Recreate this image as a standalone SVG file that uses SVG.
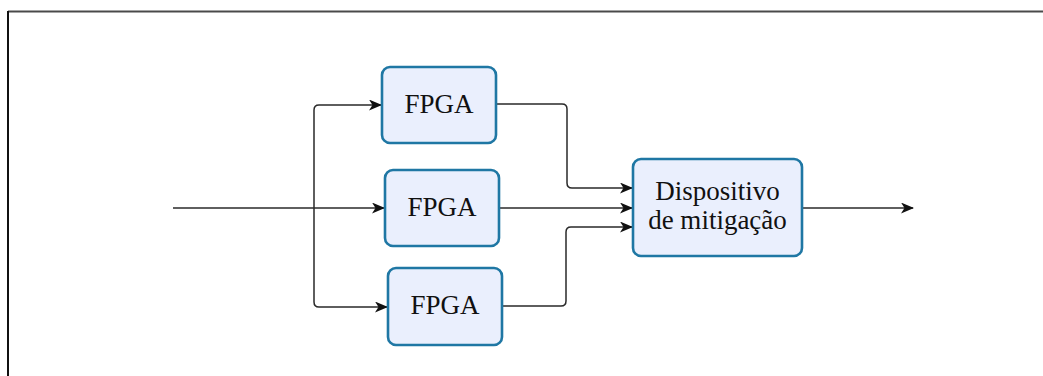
<svg xmlns="http://www.w3.org/2000/svg" width="1043" height="376" viewBox="0 0 1043 376">
  <defs>
    <style>
      .node rect { fill: #eaeffd; stroke: #1f77a4; stroke-width: 2.6; }
      .node text { font-family: "Liberation Serif", "Times New Roman", serif; font-size: 27px; fill: #111; text-anchor: middle; }
      .wire { fill: none; stroke: #2a2a2a; stroke-width: 1.5; }
    </style>
    <marker id="arrow" viewBox="0 0 13 11" refX="12" refY="5.5" markerWidth="13" markerHeight="11" markerUnits="userSpaceOnUse" orient="auto">
      <path d="M0,0 L13,5.5 L0,11 L3.5,5.5 Z" fill="#111"/>
    </marker>
  </defs>

  <rect x="0" y="0" width="1043" height="376" fill="#ffffff"/>

  <!-- frame edges -->
  <line x1="8" y1="11.5" x2="1043" y2="11.5" stroke="#4a4a4a" stroke-width="2"/>
  <line x1="8" y1="11" x2="8" y2="376" stroke="#111" stroke-width="2"/>

  <g id="connectors">
    <!-- input split to the three FPGAs -->
    <path class="wire" d="M173,208 H384" marker-end="url(#arrow)"/>
    <path class="wire" d="M314,208 V110 Q314,105 319,105 H381" marker-end="url(#arrow)"/>
    <path class="wire" d="M314,208 V302 Q314,307 319,307 H387" marker-end="url(#arrow)"/>
    <!-- FPGA outputs to the mitigation device -->
    <path class="wire" d="M496,104 H562 Q567,104 567,109 V183 Q567,188 572,188 H632" marker-end="url(#arrow)"/>
    <path class="wire" d="M499,208 H632" marker-end="url(#arrow)"/>
    <path class="wire" d="M502,306 H561 Q566,306 566,301 V232 Q566,227 571,227 H632" marker-end="url(#arrow)"/>
    <!-- device output -->
    <path class="wire" d="M803,208 H913" marker-end="url(#arrow)"/>
  </g>

  <g id="fpga1" class="node">
    <rect x="382" y="67" width="114" height="76" rx="8"/>
    <text x="439" y="113">FPGA</text>
  </g>
  <g id="fpga2" class="node">
    <rect x="385" y="170" width="114" height="76" rx="8"/>
    <text x="442" y="216">FPGA</text>
  </g>
  <g id="fpga3" class="node">
    <rect x="388" y="268" width="114" height="77" rx="8"/>
    <text x="445" y="314">FPGA</text>
  </g>
  <g id="mitigation" class="node">
    <rect x="633" y="159" width="169" height="97" rx="8"/>
    <text x="717.5" y="200">Dispositivo</text>
    <text x="717.5" y="228.5">de mitigação</text>
  </g>
</svg>
